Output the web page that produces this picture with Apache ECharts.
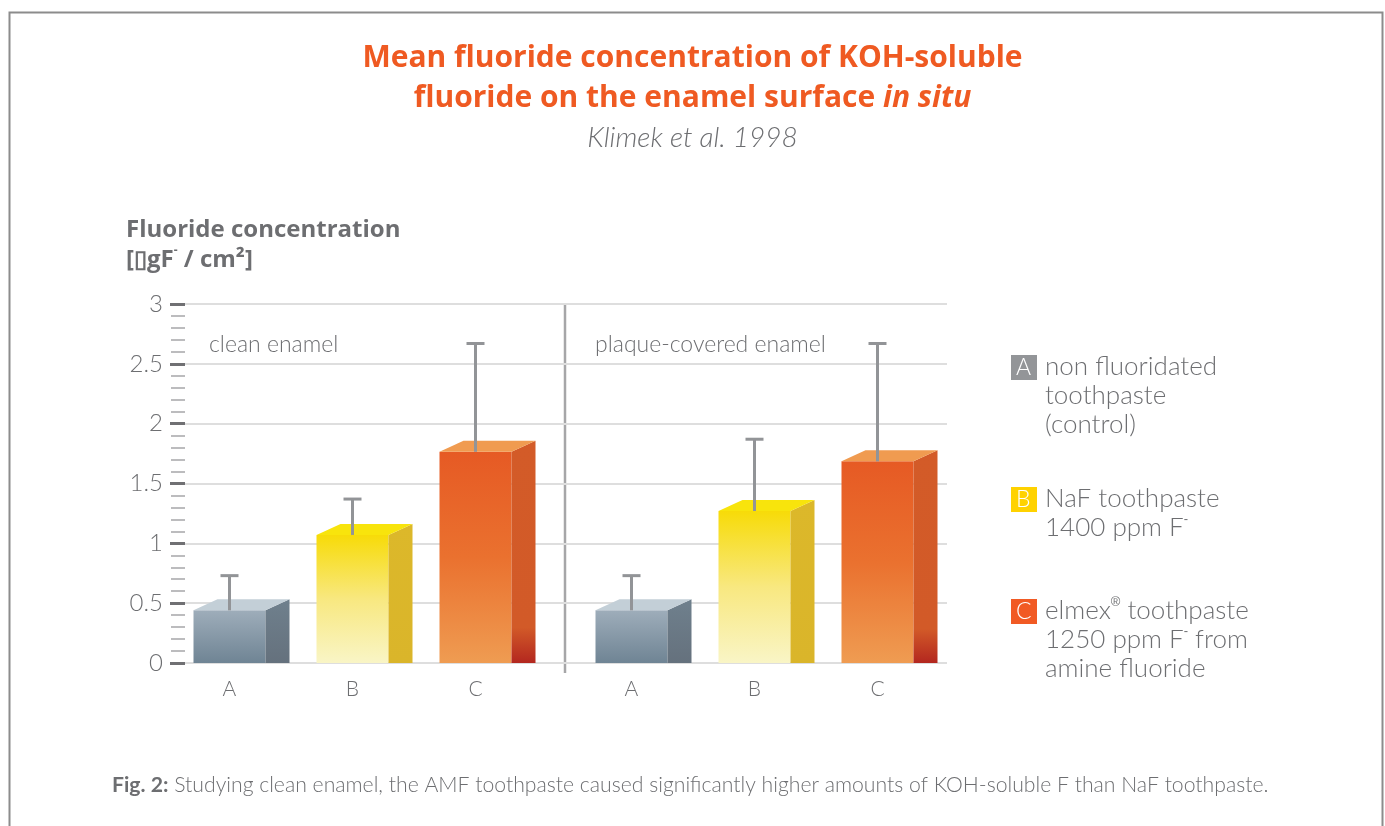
<!DOCTYPE html>
<html>
<head>
<meta charset="utf-8">
<script src="https://cdn.jsdelivr.net/npm/echarts@6/dist/echarts.min.js"></script>
<style>
  html, body { margin: 0; padding: 0; background: #fff; }
  #chart { width: 1385px; height: 826px; }
</style>
</head>
<body>
<div id="chart"></div>
<script>
// categories + values
const categories = ['A', 'B', 'C']
const cleanMeans = [0.44, 1.07, 1.765]
const cleanErrTop = [0.73, 1.37, 2.67]
const plaqueMeans = [0.44, 1.27, 1.685]
const plaqueErrTop = [0.73, 1.87, 2.67]
const yTicks = [0, 0.5, 1, 1.5, 2, 2.5, 3]

const FONT = 'Lato, "Open Sans", sans-serif'
const BOLD_FONT = '"Open Sans", Lato, sans-serif'
const GREY = '#6d6e71'

// colours for each bar (front gradient, side, top)
const barColors = [
  { front: ['#9eadba', '#6f8494'], side: ['#6f808d', '#65717d'], top: '#c3cfd7' },
  { front: ['#f7db08', '#f8e880', '#f9f5c6'], side: ['#dcb82a', '#dab52a'], top: '#f8e40c' },
  { front: ['#e65a24', '#ea712f', '#ef9c52'], side: ['#d35b28', '#d25a28', '#b3271f'], top: '#f09b50', redFoot: true },
]

function grad(colors, redFoot) {
  if (redFoot) {
    // elmex side gets the red only at the foot
    return new echarts.graphic.LinearGradient(0, 0, 0, 1, [
      { offset: 0, color: colors[0] },
      { offset: 0.84, color: colors[1] },
      { offset: 1, color: colors[2] },
    ])
  }
  const stops = colors.map((c, i) => ({ offset: i / (colors.length - 1), color: c }))
  return new echarts.graphic.LinearGradient(0, 0, 0, 1, stops)
}

function renderBar(params, api) {
  const cat = api.value(0)
  const val = api.value(1)
  const err = api.value(2)
  const top = api.coord([cat, val])
  const base = api.coord([cat, 0])
  const errPt = api.coord([cat, err])
  const cx = top[0]
  const half = 36
  const depth = 24
  const rise = 11
  const col = barColors[cat]
  return {
    type: 'group',
    children: [
      {
        type: 'rect',
        shape: { x: cx - half, y: top[1], width: half * 2, height: base[1] - top[1] },
        style: { fill: grad(col.front) },
      },
      {
        type: 'polygon',
        shape: {
          points: [
            [cx + half, top[1]],
            [cx + half + depth, top[1] - rise],
            [cx + half + depth, base[1]],
            [cx + half, base[1]],
          ],
        },
        style: { fill: grad(col.side, col.redFoot) },
      },
      {
        type: 'polygon',
        shape: {
          points: [
            [cx - half, top[1]],
            [cx - half + depth, top[1] - rise],
            [cx + half + depth, top[1] - rise],
            [cx + half, top[1]],
          ],
        },
        style: { fill: col.top },
      },
      {
        type: 'line',
        shape: { x1: cx, y1: top[1], x2: cx, y2: errPt[1] },
        style: { stroke: '#929497', lineWidth: 3 },
      },
      {
        type: 'line',
        shape: { x1: cx - 9, y1: errPt[1], x2: cx + 9, y2: errPt[1] },
        style: { stroke: '#929497', lineWidth: 3 },
      },
    ],
  }
}

function seriesData(means, errs) {
  return means.map((m, i) => [i, m, errs[i]])
}

const catAxis = (gridIndex) => ({
  type: 'category',
  gridIndex: gridIndex,
  data: categories,
  axisLine: { show: false },
  axisTick: { show: false },
  axisLabel: { color: GREY, fontSize: 21, fontFamily: FONT, fontWeight: 300, margin: 16 },
})

const hiddenY = (gridIndex) => ({
  type: 'value', gridIndex: gridIndex, min: 0, max: 3, show: false,
})

const legendItems = [
  { letter: 'A', color: '#939598', y: 355, lines: ['non fluoridated', 'toothpaste', '(control)'] },
  { letter: 'B', color: '#ffd200', y: 487, lines: ['NaF toothpaste', '1400 ppm F{sup|-}'] },
  { letter: 'C', color: '#f15a24', y: 599, lines: ['elmex{sup|®} toothpaste', '1250 ppm F{sup|-} from', 'amine fluoride'] },
]

const legendGraphics = []
legendItems.forEach((it) => {
  legendGraphics.push({
    type: 'rect',
    left: 1011, top: it.y,
    shape: { width: 26, height: 25 },
    style: { fill: it.color },
  })
  legendGraphics.push({
    type: 'text',
    left: 1016, top: it.y + 1,
    style: { text: it.letter, fill: '#fff', font: '300 23px ' + FONT },
  })
  legendGraphics.push({
    type: 'text',
    left: 1045, top: it.y - 3,
    style: {
      text: it.lines.join('\n'),
      fill: GREY,
      fontFamily: FONT,
      fontSize: 26,
      fontWeight: 300,
      lineHeight: 29,
      rich: {
        sup: { fontSize: 13, verticalAlign: 'top', lineHeight: 29, padding: [0, 0, 12, 0], fill: GREY },
      },
    },
  })
})

const option = {
  backgroundColor: '#fff',
  animation: false,
  title: [
    {
      text: 'Mean fluoride concentration of KOH-soluble\nfluoride on the enamel surface {i|in situ}',
      left: 'center', top: 33,
      textStyle: {
        color: '#ef5a22', fontFamily: BOLD_FONT, fontSize: 30, fontWeight: 'bold', lineHeight: 40,
        rich: { i: { color: '#ef5a22', fontFamily: BOLD_FONT, fontSize: 30, fontWeight: 'bold', fontStyle: 'italic', lineHeight: 40 } },
      },
    },
    {
      text: 'Klimek et al. 1998',
      left: 'center', top: 119,
      textStyle: { color: GREY, fontFamily: FONT, fontSize: 28, fontWeight: 300, fontStyle: 'italic' },
    },
    {
      text: 'Fluoride concentration\n[\u25AFgF{sup|-} / cm²]',
      left: 121, top: 210,
      textStyle: {
        color: GREY, fontFamily: BOLD_FONT, fontSize: 24, fontWeight: 'bold', lineHeight: 30,
        rich: { sup: { fontSize: 12, fontWeight: 'bold', verticalAlign: 'top', lineHeight: 30, color: GREY } },
      },
    },
    {
      text: '{b|Fig. 2:} Studying clean enamel, the AMF toothpaste caused significantly higher amounts of KOH-soluble F than NaF toothpaste.',
      left: 107, top: 770,
      textStyle: {
        color: GREY, fontFamily: FONT, fontSize: 21.2, fontWeight: 300,
        rich: { b: { color: GREY, fontFamily: FONT, fontSize: 21.2, fontWeight: 'bold' } },
      },
    },
  ],
  grid: [
    { left: 185, right: 438, top: 304, bottom: 163 },
    { left: 168, right: 848, top: 304, bottom: 163 },
    { left: 570, right: 446, top: 304, bottom: 163 },
  ],
  xAxis: [
    { type: 'value', gridIndex: 0, show: false, min: 0, max: 1 },
    catAxis(1),
    catAxis(2),
  ],
  yAxis: [
    {
      type: 'value',
      gridIndex: 0,
      min: 0,
      max: 3,
      interval: 0.5,
      axisLine: { show: false },
      axisTick: { show: true, length: 15, lineStyle: { color: '#707073', width: 3 } },
      minorTick: { show: true, splitNumber: 5, length: 14, lineStyle: { color: '#a7a7a9', width: 1.5 } },
      splitLine: { show: true, lineStyle: { color: '#dedede', width: 2 } },
      axisLabel: {
        color: GREY, fontSize: 24, fontFamily: FONT, fontWeight: 300, margin: 22,
        formatter: (v) => (yTicks.indexOf(v) >= 0 ? String(v) : ''),
      },
    },
    hiddenY(1),
    hiddenY(2),
  ],
  graphic: [
    {
      type: 'rect',
      left: 7, top: 10,
      shape: { width: 1373, height: 840 },
      style: { fill: 'none', stroke: '#8c8c8c', lineWidth: 2 },
    },
    {
      type: 'line',
      shape: { x1: 565, y1: 304, x2: 565, y2: 673 },
      style: { stroke: '#a6a6a8', lineWidth: 2.5 },
    },
    {
      type: 'text', left: 209, top: 333,
      style: { text: 'clean enamel', fill: GREY, font: '300 23px ' + FONT },
    },
    {
      type: 'text', left: 595, top: 333,
      style: { text: 'plaque-covered enamel', fill: GREY, font: '300 23px ' + FONT },
    },
  ].concat(legendGraphics),
  series: [
    {
      name: 'clean enamel',
      type: 'custom',
      xAxisIndex: 1,
      yAxisIndex: 1,
      renderItem: renderBar,
      encode: { x: 0, y: 1 },
      data: seriesData(cleanMeans, cleanErrTop),
    },
    {
      name: 'plaque-covered enamel',
      type: 'custom',
      xAxisIndex: 2,
      yAxisIndex: 2,
      renderItem: renderBar,
      encode: { x: 0, y: 1 },
      data: seriesData(plaqueMeans, plaqueErrTop),
    },
  ],
}

const chart = echarts.init(document.getElementById('chart'))
chart.setOption(option)
</script>
</body>
</html>
